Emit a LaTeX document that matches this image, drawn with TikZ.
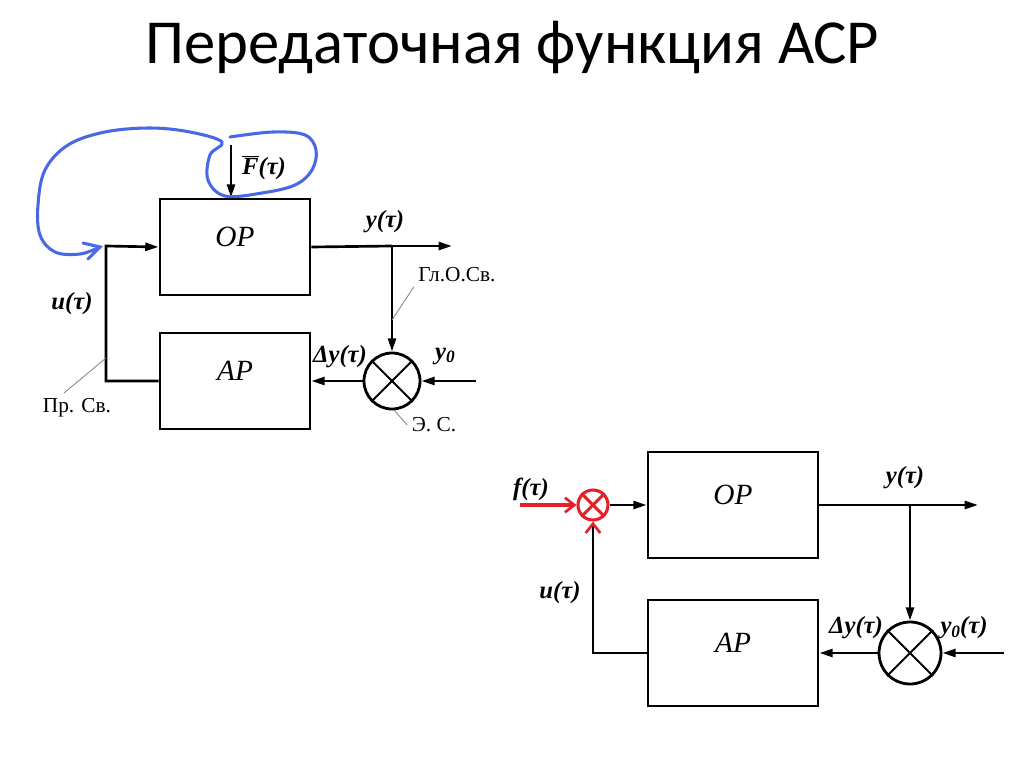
\documentclass[tikz,border=0pt]{standalone}
\usepackage{fontspec}
\setmainfont{Liberation Serif}
\newfontfamily\titlefont{Carlito}
\usetikzlibrary{arrows.meta}
\definecolor{penblue}{RGB}{72,104,228}
\definecolor{penred}{RGB}{228,32,40}
\tikzset{
  blk/.style={draw,line width=2.1pt,minimum width=112.5pt,minimum height=72pt,text depth=15pt,font=\itshape\fontsize{22}{22}\selectfont},
  blkwide/.style={blk,minimum width=127.5pt,minimum height=79.5pt},
  cmp/.style={draw,circle,line width=2.1pt,minimum size=42pt,inner sep=0pt},
  sig/.style={line width=2pt,-{Triangle[length=10pt,width=6pt]}},
  wire/.style={line width=2pt},
  lbl/.style={font=\bfseries\itshape\fontsize{18.5}{18.5}\selectfont},
  note/.style={font=\fontsize{16}{16}\selectfont},
  leader/.style={gray,line width=0.6pt},
  barb/.style={-{Straight Barb[color=penred,length=7pt,width=11pt,line width=2pt]}}
}
\newcommand{\yzero}{y\raisebox{-0.35ex}{\fontsize{13}{13}\selectfont 0}}
\begin{document}
\begin{tikzpicture}[x=0.75pt,y=-0.75pt]
  \useasboundingbox (0,0) rectangle (1024,767);
  \node[font=\titlefont\fontsize{47}{47}\selectfont] (title) at (512,47) {Передаточная функция АСР};

  % Upper part of the Figure
  \node[blk]    (opA)   at (235,247) {ОР};
  \node[blk]    (arA)   at (235,381) {АР};
  \node[cmp]    (cmpA)  at (392,381) {};
  \coordinate   (brA)   at (392,246);
  \coordinate   (outA)  at (452,246);
  \coordinate   (inA)   at (476,381);
  \coordinate   (cnA)   at (106,246);
  \coordinate   (fA)    at (231,145);
  \draw[line width=1.4pt] (cmpA.north east) -- (cmpA.south west) (cmpA.north west) -- (cmpA.south east);
  \draw[wire] (opA.east) -- (brA);
  \draw[sig]  (brA) -- (outA);
  \draw[sig]  (brA) -- (cmpA.north);
  \draw[sig]  (inA) -- (cmpA.east);
  \draw[sig]  (cmpA.west) -- (arA.east);
  \draw[sig]  (arA.west) -| (cnA) -- (opA.west);
  \draw[sig]  (fA) -- (fA |- opA.north);
  \node[lbl]  (yA)    at (385,222) {y(τ)};
  \node[lbl]  (uA)    at (72,304)  {u(τ)};
  \node[lbl]  (dyA)   at (340,357) {Δy(τ)};
  \node[lbl]  (y0A)   at (445,356) {\yzero};
  \node[lbl]  (FA)    at (264,168) {$\overline{\mbox{F}}$(τ)};
  \node[note] (glA)   at (457,275) {Гл.О.Св.};
  \node[note] (prA)   at (77,408)  {Пр. Св.};
  \node[note] (esA)   at (434,425) {Э. С.};
  \draw[leader] (392,320) -- (glA.south west);
  \draw[leader] (106,358) -- (64,393);
  \draw[leader] (394,410) -- (esA.west);
  % hand drawn loop
  \draw[penblue,line width=2.3pt,line cap=round,line join=round]
    plot[smooth,tension=0.6] coordinates {(230,137) (273,132) (305,135) (316,150) (312,170)
      (295,185) (262,193) (225,196) (208,180) (210,155) (222,142) (190,132) (150,128)
      (105,132) (68,145) (45,170) (38,205) (40,235) (55,252) (80,254) (100,247)};
  \draw[penblue,line width=2.3pt,line cap=round] (83,243) -- (100,247) -- (88,259);

  % Lower part of the Figure
  \node[blkwide] (opB)  at (733,505) {ОР};
  \node[blkwide] (arB)  at (733,653) {АР};
  \node[cmp,minimum size=46.5pt] (cmpB) at (910,653) {};
  \node[cmp,draw=penred,line width=2.3pt,minimum size=22.5pt] (sumB) at (593,505) {};
  \coordinate   (brB)   at (910,505);
  \coordinate   (outB)  at (978,505);
  \coordinate   (inB)   at (1004,653);
  \coordinate   (fB)    at (520,505);
  \draw[line width=1.4pt] (cmpB.north east) -- (cmpB.south west) (cmpB.north west) -- (cmpB.south east);
  \draw[penred,line width=2.3pt] (sumB.north east) -- (sumB.south west) (sumB.north west) -- (sumB.south east);
  \draw[wire] (opB.east) -- (brB);
  \draw[sig]  (brB) -- (outB);
  \draw[sig]  (brB) -- (cmpB.north);
  \draw[sig]  (inB) -- (cmpB.east);
  \draw[sig]  (cmpB.west) -- (arB.east);
  \draw[sig]  (sumB.east) -- (opB.west);
  \draw[wire,barb] (arB.west) -| (sumB.south);
  \draw[penred,line width=2.3pt,barb] (fB) -- (sumB.west);
  \node[lbl]  (yB)    at (905,478) {y(τ)};
  \node[lbl]  (uB)    at (560,593) {u(τ)};
  \node[lbl]  (dyB)   at (856,628) {Δy(τ)};
  \node[lbl]  (y0B)   at (964,628) {\yzero(τ)};
  \node[lbl]  (fTB)   at (531,489) {f(τ)};
\end{tikzpicture}
\end{document}
